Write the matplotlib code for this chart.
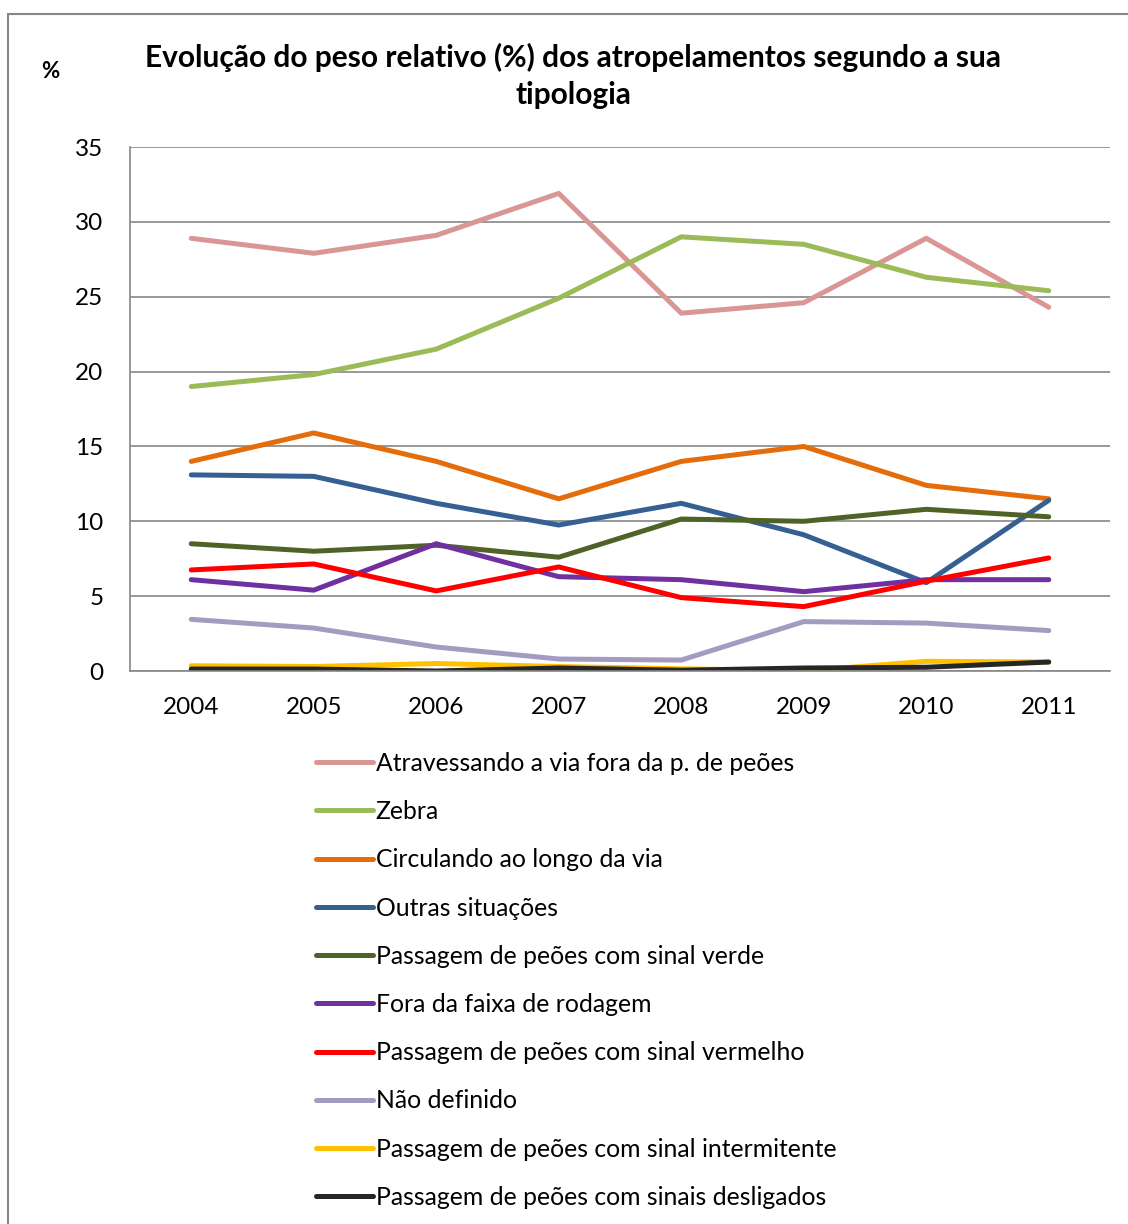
import matplotlib
matplotlib.use("Agg")
import matplotlib.pyplot as plt
from matplotlib.patches import Rectangle
import numpy as np

plt.rcParams['font.family'] = ['Lato', 'DejaVu Sans']

years = ["2004", "2005", "2006", "2007", "2008", "2009", "2010", "2011"]

atravessando = [28.9, 27.9, 29.1, 31.9, 23.9, 24.6, 28.9, 24.3]
zebra = [19.0, 19.8, 21.5, 24.9, 29.0, 28.5, 26.3, 25.4]
circulando = [14.0, 15.9, 14.0, 11.5, 14.0, 15.0, 12.4, 11.5]
outras = [13.1, 13.0, 11.2, 9.75, 11.2, 9.1, 5.9, 11.4]
verde = [8.5, 8.0, 8.4, 7.6, 10.15, 10.0, 10.8, 10.3]
fora_faixa = [6.1, 5.4, 8.5, 6.3, 6.1, 5.3, 6.1, 6.1]
vermelho = [6.75, 7.15, 5.35, 6.95, 4.9, 4.3, 6.0, 7.55]
nao_definido = [3.45, 2.87, 1.6, 0.8, 0.73, 3.3, 3.2, 2.7]
intermitente = [0.35, 0.3, 0.5, 0.3, 0.15, 0.0, 0.65, 0.6]
desligados = [0.13, 0.13, 0.0, 0.2, 0.05, 0.2, 0.25, 0.6]

series_names = [
    "Atravessando a via fora da p. de peões",
    "Zebra",
    "Circulando ao longo da via",
    "Outras situações",
    "Passagem de peões com sinal verde",
    "Fora da faixa de rodagem",
    "Passagem de peões com sinal vermelho",
    "Não definido",
    "Passagem de peões com sinal intermitente",
    "Passagem de peões com sinais desligados",
]
series_values = [atravessando, zebra, circulando, outras, verde, fora_faixa,
                 vermelho, nao_definido, intermitente, desligados]
colors = ["#D99694", "#9BBB59", "#E46C0A", "#376092", "#4F6228", "#7030A0",
          "#FF0000", "#A49BC0", "#FFC000", "#262626"]

W, H = 1128, 1224
fig = plt.figure(figsize=(W / 100, H / 100), dpi=100)

# outer chart frame
fig.patches.append(Rectangle((8 / W, -0.01), 1.2, 1 - 14 / H + 0.01,
                             transform=fig.transFigure, fill=False,
                             edgecolor="#868686", linewidth=1.5))

ax = fig.add_axes([130 / W, 1 - 671 / H, (1110 - 130) / W, (671 - 147) / H])
x = np.arange(len(years))
for name, vals, c in zip(series_names, series_values, colors):
    ax.plot(x, vals, color=c, linewidth=3.6, label=name, solid_capstyle='round')

ax.set_xlim(-0.5, len(years) - 0.5)
ax.set_ylim(0, 35)
ax.set_yticks(np.arange(0, 36, 5))
ax.set_xticks(x)
ax.set_xticklabels(years)
ax.yaxis.grid(True, color="#868686", linewidth=1.2)
ax.set_axisbelow(True)
for s in ["top", "right"]:
    ax.spines[s].set_visible(False)
ax.spines["left"].set_color("#868686")
ax.spines["bottom"].set_color("#868686")
ax.spines["left"].set_linewidth(1.2)
ax.spines["bottom"].set_linewidth(1.2)
ax.tick_params(axis="both", length=0, labelsize=17.5, colors="black")
ax.tick_params(axis="y", pad=19)
ax.tick_params(axis="x", pad=19)

fig.text(573 / W, 1 - 76 / H,
         "Evolução do peso relativo (%) dos atropelamentos segundo a sua\ntipologia",
         ha="center", va="center", fontsize=21.5, fontweight="bold", linespacing=1.42)
fig.text(50 / W, 1 - 71 / H, "%", ha="center", va="center", fontsize=16,
         fontweight="bold")

handles, labels = ax.get_legend_handles_labels()
leg = fig.legend(handles, labels, loc="upper left",
                 bbox_to_anchor=(306 / W, 1 - 742 / H), frameon=False,
                 fontsize=17.8, handlelength=2.3, handletextpad=0.12,
                 labelspacing=1.02, borderaxespad=0)

fig.savefig("out.png", dpi=100)
